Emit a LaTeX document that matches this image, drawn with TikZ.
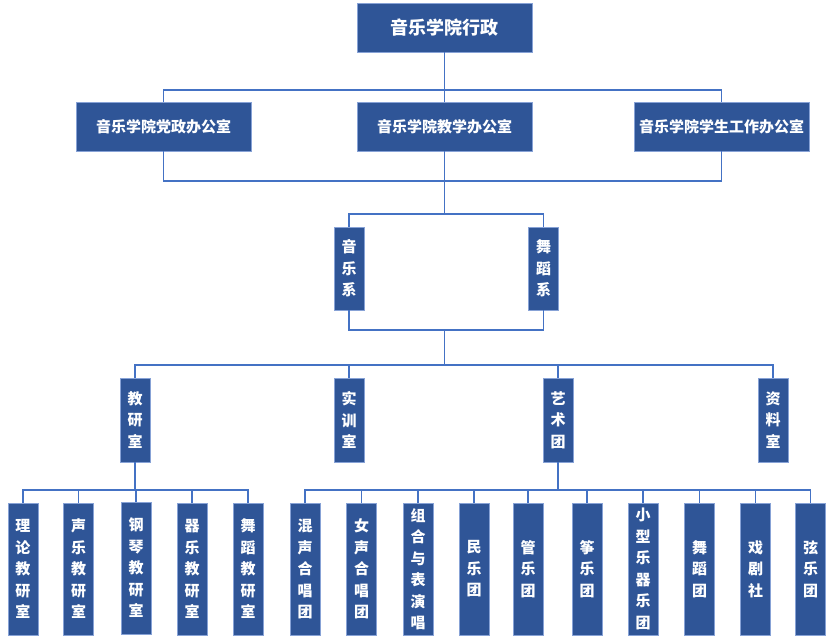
\documentclass[tikz,border=0pt]{standalone}
\usepackage{fontspec}
\newfontfamily\cjk{Noto Sans CJK SC}
\usepackage{tikz}
\usetikzlibrary{positioning}

\definecolor{boxblue}{RGB}{47,85,151}
\definecolor{rimblue}{RGB}{135,162,214}
\definecolor{lineblue}{RGB}{68,114,196}

\tikzset{
  hbox/.style={draw=rimblue,line width=0.8pt,fill=boxblue,text=white,inner sep=0pt,minimum width=175pt,minimum height=49pt,font=\cjk\bfseries\fontsize{15pt}{18pt}\selectfont},
  vbox/.style={draw=rimblue,line width=0.8pt,fill=boxblue,text=white,inner sep=0pt,minimum width=30pt,align=center,font=\cjk\bfseries\fontsize{15pt}{21.5pt}\selectfont},
  conn/.style={draw=lineblue,line width=1.8pt}
}

\begin{document}
\begin{tikzpicture}[x=1pt,y=-1pt]
\useasboundingbox (0,0) rectangle (832,643);

% top level
\node[hbox,font=\cjk\bfseries\fontsize{18pt}{21pt}\selectfont] (xz) at (444.5,27.5) {音乐学院行政};

% offices
\node[hbox] (dzb) at (163.5,126.5) {音乐学院党政办公室};
\node[hbox] (jxb) at (444.5,126.5) {音乐学院教学办公室};
\node[hbox] (xsb) at (721.5,126.5) {音乐学院学生工作办公室};

% departments
\node[vbox,minimum height=83pt] (yyx) at (349,268.5) {音\\乐\\系};
\node[vbox,minimum height=83pt] (wdx) at (543.5,268.5) {舞\\蹈\\系};

% third row
\node[vbox,minimum height=84pt] (jys) at (135,420) {教\\研\\室};
\node[vbox,minimum height=84pt] (sxs) at (349,420) {实\\训\\室};
\node[vbox,minimum height=84pt] (yst) at (558,420) {艺\\术\\团};
\node[vbox,minimum height=84pt] (zls) at (773,420) {资\\料\\室};

% teaching sections
\node[vbox,minimum height=132pt] (ll) at (23,569) {理\\论\\教\\研\\室};
\node[vbox,minimum height=132pt] (sy) at (78.5,569) {声\\乐\\教\\研\\室};
\node[vbox,minimum height=132pt] (gq) at (136,568) {钢\\琴\\教\\研\\室};
\node[vbox,minimum height=132pt] (qy) at (192,569) {器\\乐\\教\\研\\室};
\node[vbox,minimum height=132pt] (wd) at (248,569) {舞\\蹈\\教\\研\\室};

% art troupes
\node[vbox,minimum height=132pt] (hs) at (305,569) {混\\声\\合\\唱\\团};
\node[vbox,minimum height=132pt] (ns) at (361.5,569) {女\\声\\合\\唱\\团};
\node[vbox,minimum height=132pt] (zh) at (418,569) {组\\合\\与\\表\\演\\唱};
\node[vbox,minimum height=132pt] (my) at (474,569) {民\\乐\\团};
\node[vbox,minimum height=132pt] (gy) at (528,569) {管\\乐\\团};
\node[vbox,minimum height=132pt] (zy) at (587,569) {筝\\乐\\团};
\node[vbox,minimum height=132pt] (xx) at (643,569) {小\\型\\乐\\器\\乐\\团};
\node[vbox,minimum height=132pt] (wdt) at (699.5,569) {舞\\蹈\\团};
\node[vbox,minimum height=132pt] (xj) at (755.5,569) {戏\\剧\\社};
\node[vbox,minimum height=132pt] (xy) at (810.5,569) {弦\\乐\\团};

% junctions
\coordinate (j1) at (444.5,90);
\coordinate (j2) at (444.5,181);
\coordinate (j3) at (444.5,214);
\coordinate (j4) at (444.5,330);
\coordinate (j5) at (444.5,365);
\coordinate (j6) at (135,490);
\coordinate (j7) at (558,490);

\draw[conn] (xz.south) -- (j1);
\draw[conn] (dzb.north) |- (j1) -| (xsb.north);
\draw[conn] (j1) -- (jxb.north);

\draw[conn] (dzb.south) |- (j2) -| (xsb.south);
\draw[conn] (jxb.south) -- (j3);
\draw[conn] (yyx.north) |- (j3) -| (wdx.north);

\draw[conn] (yyx.south) |- (j4) -| (wdx.south);
\draw[conn] (j4) -- (j5);
\draw[conn] (jys.north) |- (j5) -| (zls.north);
\draw[conn] (sxs.north) -- (sxs.north |- j5);
\draw[conn] (yst.north) -- (yst.north |- j5);

\draw[conn] (jys.south) -- (j6);
\draw[conn] (ll.north) |- (j6) -| (wd.north);
\foreach \n in {sy,gq,qy}
  \draw[conn] (\n.north) -- (\n.north |- j6);

\draw[conn] (yst.south) -- (j7);
\draw[conn] (hs.north) |- (j7) -| (xy.north);
\foreach \n in {ns,zh,my,gy,zy,xx,wdt,xj}
  \draw[conn] (\n.north) -- (\n.north |- j7);
\end{tikzpicture}
\end{document}
